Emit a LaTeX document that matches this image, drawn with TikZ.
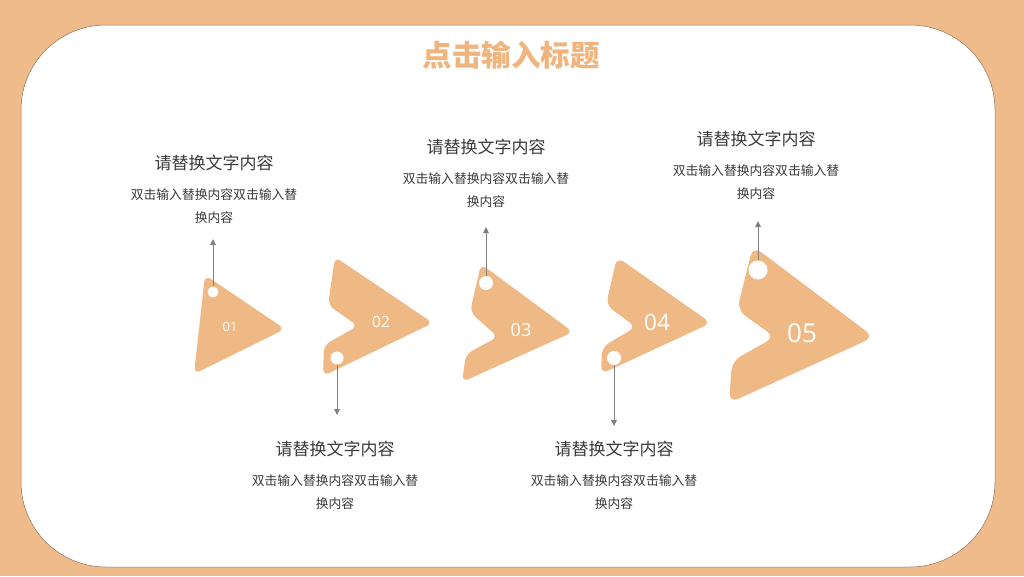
\documentclass[tikz,border=0pt]{standalone}
\usepackage{fontspec}
\setmainfont{Open Sans}
\newfontfamily\cjk{Noto Sans CJK SC}
\usetikzlibrary{arrows.meta}
\definecolor{fundo}{HTML}{F0BB8A}
\definecolor{forma}{HTML}{EFB985}
\definecolor{cabeca}{HTML}{F0B47E}
\definecolor{linha}{HTML}{7F7F7F}
\definecolor{texto}{HTML}{3A3A3A}
\begin{document}
\begin{tikzpicture}[
        x=1pt, y=-1pt,
        font=\cjk,
        forma/.style={
            fill=forma,
            rounded corners=#1
        },
        forma/.default=7pt,
        furo/.style={
            circle, fill=white, inner sep=0pt, minimum size=#1
        },
        numero/.style={text=white, font=\fontsize{#1}{#1}\selectfont},
        titulo/.style={text=texto, font=\cjk\fontsize{17}{19}\selectfont},
        corpo/.style={text=texto, align=center, font=\cjk\fontsize{12.8}{23}\selectfont},
        seta/.style={draw=linha, line width=0.9pt, -{Triangle[length=6pt, width=5.5pt]}}
    ]

    % Definição das formas
    \def\formaUm{(205,275) -- (194,374) -- (285,329) -- cycle}
    \def\formaDois{(335,257) -- (328,305) -- (358,326) -- (324,345) -- (323,376) -- (433,323) -- cycle}
    \def\formaTres{(481,264) -- (470,312) -- (498,337) -- (466,354) -- (462,382) -- (573,332) -- cycle}
    \def\formaQuatro{(617,257) -- (606,305) -- (636,327) -- (602,347) -- (601,374) -- (711,323) -- cycle}
    \def\formaCinco{(753,246) -- (737,310) -- (775,337) -- (732,361) -- (729,403) -- (874,337) -- cycle}

    \useasboundingbox (0,0) rectangle (1024,576);

    % Fundo
    \fill[fundo] (0,0) rectangle (1024,576);
    \filldraw[fill=white, draw=fundo!60!black, line width=0.5pt, rounded corners=85pt] (21,25) rectangle (995,567);

    \node[text=cabeca, font=\cjk\bfseries\fontsize{29.5}{31}\selectfont] (cabecalho) at (511,55) {点击输入标题};

    % Setas
    \fill[forma] \formaUm;
    \fill[forma] \formaDois;
    \fill[forma] \formaTres;
    \fill[forma=8pt] \formaQuatro;
    \fill[forma=10pt] \formaCinco;

    \node[numero=13] (n1) at (230,327) {01};
    \node[numero=15.5] (n2) at (381,322) {02};
    \node[numero=18] (n3) at (521,330) {03};
    \node[numero=22.5] (n4) at (657,322) {04};
    \node[numero=26] (n5) at (802,333) {05};

    \node[furo=11pt] (c1) at (213,292) {};
    \node[furo=13pt] (c2) at (337,358) {};
    \node[furo=14pt] (c3) at (486,283) {};
    \node[furo=14pt] (c4) at (614,358) {};
    \node[furo=19pt] (c5) at (758,270) {};

    % Textos
    \node[titulo] (t1) at (214,163) {请替换文字内容};
    \node[corpo] (b1) at (214,206.5) {双击输入替换内容双击输入替\\换内容};
    \node[titulo] (t2) at (335,449) {请替换文字内容};
    \node[corpo] (b2) at (335,492.5) {双击输入替换内容双击输入替\\换内容};
    \node[titulo] (t3) at (486,147) {请替换文字内容};
    \node[corpo] (b3) at (486,190.5) {双击输入替换内容双击输入替\\换内容};
    \node[titulo] (t4) at (614,449) {请替换文字内容};
    \node[corpo] (b4) at (614,492.5) {双击输入替换内容双击输入替\\换内容};
    \node[titulo] (t5) at (756,139) {请替换文字内容};
    \node[corpo] (b5) at (756,182.5) {双击输入替换内容双击输入替\\换内容};

    % Ligações
    \coordinate (a1) at (213,239);
    \coordinate (a2) at (337,415);
    \coordinate (a3) at (486,227);
    \coordinate (a4) at (614,426);
    \coordinate (a5) at (758,221);

    \draw[seta] (c1.north) -- (a1);
    \draw[seta] (c2.south) -- (a2);
    \draw[seta] (c3.north) -- (a3);
    \draw[seta] (c4.south) -- (a4);
    \draw[seta] (c5.north) -- (a5);

\end{tikzpicture}
\end{document}
